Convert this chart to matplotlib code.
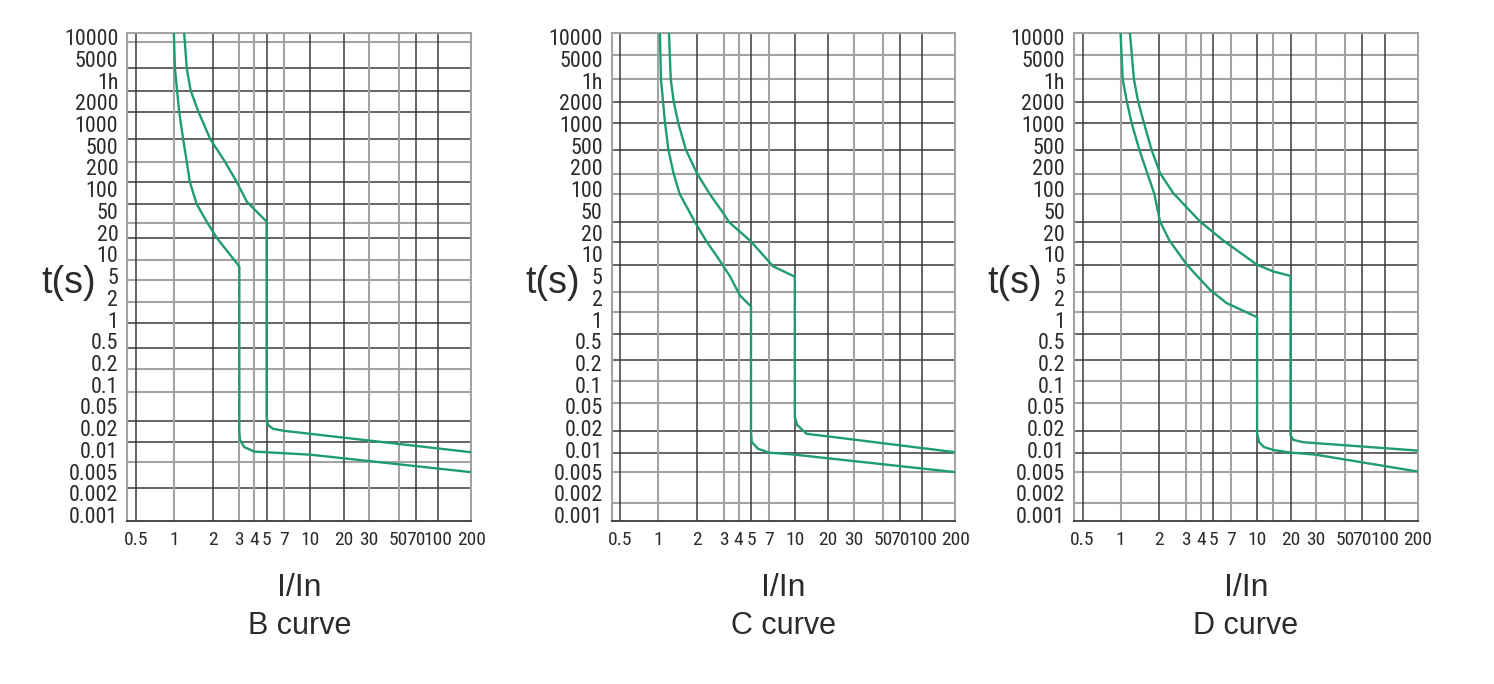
import os
import numpy as np
import matplotlib
matplotlib.use("Agg")
import matplotlib.pyplot as plt
from matplotlib import font_manager
from matplotlib.font_manager import FontProperties

# ---------------- data ----------------
Y_VALUES = [10000, 5000, 3600, 2000, 1000, 500, 200, 100, 50, 20, 10, 5, 2, 1,
            0.5, 0.2, 0.1, 0.05, 0.02, 0.01, 0.005, 0.002, 0.001]
Y_LABELS = ["10000", "5000", "1h", "2000", "1000", "500", "200", "100", "50", "20",
            "10", "5", "2", "1", "0.5", "0.2", "0.1", "0.05", "0.02", "0.01",
            "0.005", "0.002", "0.001"]
X_VALUES = [0.5, 1, 2, 3, 4, 5, 7, 10, 20, 30, 50, 70, 100, 200]
X_LABELS = ["0.5", "1", "2", "3", "4", "5", "7", "10", "20", "30", "50", "70", "100", "200"]

PANEL_TITLES = ["B curve", "C curve", "D curve"]

# B curve (lower / upper trip limits): current multiple I/In, time t (s)
B_LOW_I = [1.0, 1.02, 1.10, 1.18, 1.26, 1.33, 1.50, 1.80, 2.13, 3.0, 3.0, 3.04, 3.29, 4.0, 10, 200]
B_LOW_T = [12000, 4340, 1486, 624, 256, 127, 62.8, 31.6, 16.9, 6.8, 0.018, 0.0138, 0.011, 0.0095, 0.0086, 0.0049]
B_UP_I = [1.20, 1.26, 1.35, 1.55, 1.91, 2.41, 2.88, 3.47, 5.0, 5.0, 5.13, 5.65, 7.0, 200]
B_UP_T = [12000, 4340, 2750, 1486, 624, 256, 127, 67.3, 31.9, 0.0328, 0.0231, 0.0196, 0.0184, 0.0093]

# C curve
C_LOW_I = [1.03, 1.05, 1.13, 1.20, 1.32, 1.47, 1.93, 2.31, 2.75, 3.39, 4.11, 5.0, 5.0, 5.07, 5.71, 7.0, 10, 200]
C_LOW_T = [12000, 3675, 1028, 420, 161, 85.3, 31, 15.1, 8.95, 4.96, 2.20, 1.52, 0.018, 0.0129, 0.0104, 0.0092, 0.0086, 0.0049]
C_UP_I = [1.21, 1.25, 1.32, 1.43, 1.64, 2.0, 2.43, 2.98, 3.34, 5.0, 7.45, 10, 10, 10.46, 12.8, 20, 200]
C_UP_T = [12000, 3675, 2013, 1028, 420, 165, 85.3, 45.6, 31, 15.1, 6.8, 4.9, 0.0328, 0.0231, 0.0167, 0.0154, 0.0093]

# D curve
D_LOW_I = [1.0, 1.04, 1.12, 1.22, 1.40, 1.61, 1.82, 2.02, 2.33, 3.05, 4.71, 6.45, 10, 10, 10.4, 11.5, 14, 20, 30, 200]
D_LOW_T = [12000, 3675, 2037, 1028, 420, 167, 88.3, 31.9, 15.6, 7.18, 2.81, 1.69, 1.08, 0.017, 0.0129, 0.011, 0.01, 0.0092, 0.0086, 0.00502]
D_UP_I = [1.18, 1.27, 1.37, 1.52, 1.74, 2.02, 2.47, 3.95, 6.04, 10, 14, 20, 20, 20.9, 24.5, 200]
D_UP_T = [12000, 3675, 2037, 1028, 420, 167, 88.3, 31.9, 15.6, 7.18, 5.8, 5.04, 0.0161, 0.0138, 0.0128, 0.0098]

CURVES = [((B_LOW_I, B_LOW_T), (B_UP_I, B_UP_T)),
          ((C_LOW_I, C_LOW_T), (C_UP_I, C_UP_T)),
          ((D_LOW_I, D_LOW_T), (D_UP_I, D_UP_T))]

# ---------------- layout / style ----------------
X_POS = [8.5, 46.5, 85.4, 112.0, 126.8, 139.3, 157.0, 183.1, 216.5, 241.8, 271.3, 288.2, 310.7, 343.8]
Y_POS = list(range(len(Y_VALUES) - 1, -1, -1))
Y_LIM_POS = (-0.27, 22.19)

H_GRID_B = [21.79, 20.57, 19.54, 18.57, 17.32, 16.27, 15.35, 14.33, 13.44, 12.75, 11.75,
            10.83, 9.83, 8.86, 7.69, 6.73, 5.66, 4.35, 3.36, 2.46, 1.27]
H_DARK_B = [0, 1, 1, 1, 1, 0, 1, 1, 0, 1, 0, 0, 0, 1, 1, 0, 0, 1, 1, 0, 1]
H_GRID_CD = [21.18, 20.06, 19.01, 18.04, 16.81, 15.69, 14.77, 13.48, 12.59, 11.52, 10.29,
             9.37, 8.33, 7.15, 6.18, 5.15, 3.85, 2.85, 1.98, 0.55]
H_DARK_CD = [0, 0, 1, 1, 1, 0, 0, 1, 1, 1, 0, 0, 1, 1, 0, 0, 1, 1, 0, 0]
H_GRIDS = [(H_GRID_B, H_DARK_B), (H_GRID_CD, H_DARK_CD), (H_GRID_CD, H_DARK_CD)]

V_GRID = [0.5, 1, 2, 3, 4, 5, 7, 10, 20, 30, 50, 70, 100]
V_DARK = [1, 0, 1, 0, 0, 1, 0, 1, 1, 0, 0, 1, 1]
V_EXTRA = [[], [], [14]]

AX_LEFT_PX = [127.3, 611.7, 1074.0]
AX_TOP_PX = 33.0
AX_H_PX = 488.0
FIG_W, FIG_H = 1494, 684

DARK = "#3a3a3a"
GRAY = "#a3a3a3"
GREEN = "#1f9d6c"
TEXT_C = "#2b2b2b"

TEXT_FONT = "Liberation Sans"
plt.rcParams["font.family"] = [TEXT_FONT, "DejaVu Sans"]


def find_condensed():
    fl = font_manager.fontManager.ttflist
    prefs = ["Liberation Sans Narrow", "Arial Narrow", "Roboto Condensed",
             "Open Sans Condensed", "Noto Sans Condensed"]
    bad = ("bold", "italic", "oblique", "light", "thin", "black", "medium", "semibold",
           "extrabold", "heavy")
    for p in prefs:
        for f in fl:
            b = os.path.basename(f.fname).lower()
            if f.name == p and f.style == "normal" and not any(w in b for w in bad):
                return f.fname
    for f in fl:
        b = os.path.basename(f.fname).lower()
        if f.style != "normal" or any(w in b for w in bad):
            continue
        if ("condensed" in b or "narrow" in b) and "extracondensed" not in b \
                and "semicondensed" not in b and "ultra" not in b:
            if any(k in f.name for k in ("Sans", "Roboto", "Lato", "Inter")) and "Mono" not in f.name \
                    and "CJK" not in f.name:
                return f.fname
    return None


cond = find_condensed()
if cond:
    Y_TICK_FP = FontProperties(fname=cond, size=15.8)
    X_TICK_FP = FontProperties(fname=cond, size=14.0)
else:
    Y_TICK_FP = FontProperties(family="Liberation Sans", size=14.5)
    X_TICK_FP = FontProperties(family="Liberation Sans", size=11.3)


def make_scale(vals, pos):
    lv = np.log10(np.asarray(vals, float))
    p = np.asarray(pos, float)
    o = np.argsort(lv)
    lv, p = lv[o], p[o]
    s0 = (p[1] - p[0]) / (lv[1] - lv[0])
    s1 = (p[-1] - p[-2]) / (lv[-1] - lv[-2])
    lv_e = np.concatenate([[lv[0] - 20], lv, [lv[-1] + 20]])
    p_e = np.concatenate([[p[0] - 20 * s0], p, [p[-1] + 20 * s1]])

    def fwd(v):
        v = np.asarray(v, float)
        with np.errstate(all="ignore"):
            l = np.log10(np.where(v > 0, v, 1e-300))
        return np.interp(l, lv_e, p_e)

    def inv(q):
        return 10 ** np.interp(np.asarray(q, float), p_e, lv_e)

    return fwd, inv


xf, xi = make_scale(X_VALUES, X_POS)
yf, yi = make_scale(Y_VALUES, Y_POS)

fig = plt.figure(figsize=(FIG_W / 100, FIG_H / 100), dpi=100)
fig.patch.set_facecolor("white")

for k in range(3):
    left = AX_LEFT_PX[k] / FIG_W
    bottom = (FIG_H - AX_TOP_PX - AX_H_PX) / FIG_H
    ax = fig.add_axes([left, bottom, X_POS[-1] / FIG_W, AX_H_PX / FIG_H])
    ax.set_xscale("function", functions=(xf, xi))
    ax.set_yscale("function", functions=(yf, yi))
    ax.set_xlim(float(xi(0.0)), X_VALUES[-1])
    ax.set_ylim(float(yi(Y_LIM_POS[0])), float(yi(Y_LIM_POS[1])))

    ax.set_xticks(X_VALUES, labels=X_LABELS)
    ax.set_yticks(Y_VALUES, labels=Y_LABELS)
    ax.minorticks_off()
    ax.tick_params(axis="both", length=0, colors=TEXT_C)
    ax.tick_params(axis="y", pad=6.5)
    ax.tick_params(axis="x", pad=7.5)
    for lab in ax.get_yticklabels():
        lab.set_fontproperties(Y_TICK_FP)
    for lab in ax.get_xticklabels():
        lab.set_fontproperties(X_TICK_FP)

    hg, hd = H_GRIDS[k]
    for q, d in zip(hg, hd):
        ax.axhline(float(yi(q)), color=DARK if d else GRAY, lw=1.1 if d else 1.5, zorder=1)
    for v, d in zip(V_GRID, V_DARK):
        ax.axvline(v, color=DARK if d else GRAY, lw=1.1 if d else 1.5, zorder=1)
    for v in V_EXTRA[k]:
        ax.axvline(v, color=GRAY, lw=1.5, zorder=1)

    for side in ["left", "top", "right"]:
        ax.spines[side].set_color(GRAY)
        ax.spines[side].set_linewidth(1.5)
    ax.spines["bottom"].set_color(DARK)
    ax.spines["bottom"].set_linewidth(1.3)

    for (ci, ct) in CURVES[k]:
        ax.plot(ci, ct, color=GREEN, lw=1.7, zorder=3, solid_joinstyle="round")

    cx = (AX_LEFT_PX[k] + X_POS[-1] / 2) / FIG_W
    fig.text(cx, 1 - 588 / FIG_H, "I/In", ha="center", va="center", fontsize=23, color=TEXT_C)
    fig.text(cx, 1 - 626 / FIG_H, PANEL_TITLES[k], ha="center", va="center", fontsize=22, color=TEXT_C)
    fig.text((AX_LEFT_PX[k] - 59) / FIG_W, 1 - 283 / FIG_H, "t(s)", ha="center", va="center",
             fontsize=27, color=TEXT_C)

fig.savefig("out.png", dpi=100, facecolor="white")
